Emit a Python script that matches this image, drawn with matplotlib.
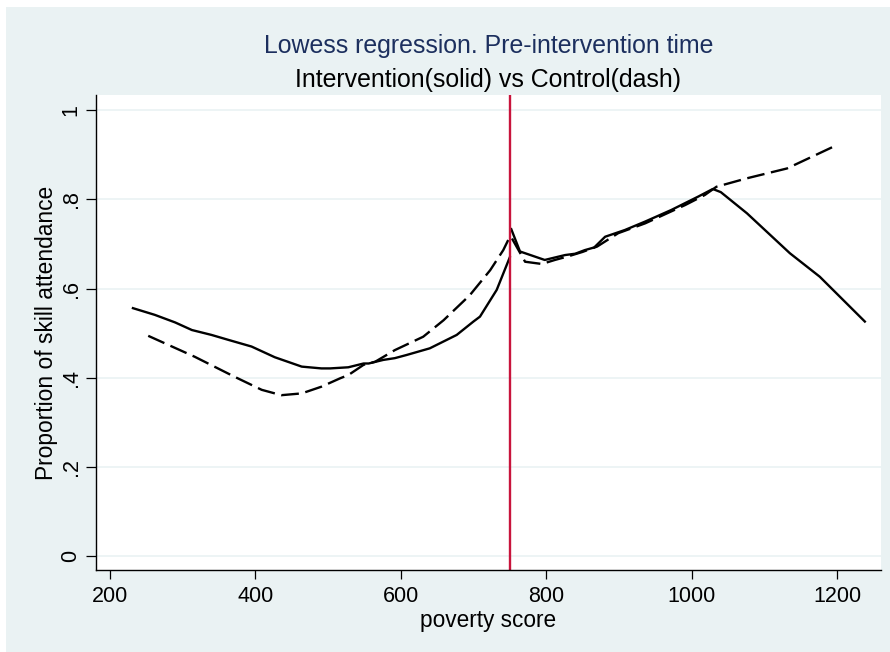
import matplotlib
matplotlib.use("Agg")
import matplotlib.pyplot as plt
from matplotlib.patches import Rectangle

plt.rcParams['font.family'] = ['Liberation Sans', 'DejaVu Sans']

# Intervention (solid), before and after the cut-off
int_pre_x = [232, 262, 290, 313, 340, 363, 395, 427, 464, 491, 503, 528,
             549, 556, 576, 592, 608, 640, 677, 700, 709, 732, 750]
int_pre_y = [0.556, 0.541, 0.524, 0.507, 0.496, 0.485, 0.470, 0.446, 0.425,
             0.421, 0.421, 0.4235, 0.432, 0.432, 0.440, 0.444, 0.451, 0.466,
             0.496, 0.526, 0.537, 0.597, 0.670]
int_post_x = [752, 764, 798, 826, 840, 853, 866, 881, 908, 936, 972, 1009,
              1029, 1040, 1076, 1135, 1176, 1238]
int_post_y = [0.733, 0.683, 0.664, 0.675, 0.678, 0.686, 0.692, 0.716, 0.731,
              0.750, 0.776, 0.806, 0.823, 0.816, 0.7685, 0.679, 0.6265, 0.526]

# Control (dash)
ctl_pre_x = [253, 317, 372, 409, 436, 464, 491, 517, 528, 549, 565, 592,
             631, 659, 695, 723, 741, 750]
ctl_pre_y = [0.494, 0.447, 0.402, 0.373, 0.361, 0.365, 0.380, 0.399, 0.406,
             0.429, 0.436, 0.462, 0.492, 0.529, 0.585, 0.641, 0.686, 0.716]
ctl_post_x = [753, 771, 794, 812, 830, 850, 870, 899, 936, 991, 1018, 1034,
              1076, 1131, 1195]
ctl_post_y = [0.712, 0.660, 0.655, 0.664, 0.672, 0.682, 0.694, 0.724, 0.746,
              0.787, 0.8095, 0.828, 0.847, 0.869, 0.918]

cutoff = 750
x_ticks = [200, 400, 600, 800, 1000, 1200]
y_ticks = [0, 0.2, 0.4, 0.6, 0.8, 1.0]
y_tick_labels = ['0', '.2', '.4', '.6', '.8', '1']

bg = '#eaf2f3'

fig = plt.figure(figsize=(8.9, 6.52), dpi=100, facecolor='white')
fig.patches.append(Rectangle((6 / 890, 0), 1 - 6 / 890, 645 / 652,
                             transform=fig.transFigure, facecolor=bg,
                             edgecolor='none', zorder=-10))

ax = fig.add_axes([95.7 / 890, 82 / 652, 785 / 890, 475 / 652])
ax.set_facecolor('white')

for y in y_ticks:
    ax.axhline(y, color=bg, lw=1.2, zorder=0)

dash = (7.5, 2.8)
ax.plot(int_pre_x, int_pre_y, color='black', lw=1.7)
ax.plot(int_post_x, int_post_y, color='black', lw=1.7)
ax.plot(ctl_pre_x, ctl_pre_y, color='black', lw=1.7, dashes=dash)
ax.plot(ctl_post_x, ctl_post_y, color='black', lw=1.7, dashes=dash)
ax.axvline(cutoff, color='#c8143c', lw=1.7)

ax.set_xlim(180.8, 1259.8)
ax.set_ylim(-0.0307, 1.0336)

ax.spines['top'].set_visible(False)
ax.spines['right'].set_visible(False)
for s in ('left', 'bottom'):
    ax.spines[s].set_linewidth(1.0)

ax.set_xticks(x_ticks)
ax.set_yticks(y_ticks)
ax.set_yticklabels(y_tick_labels, rotation=90, va='center')
ax.tick_params(axis='x', length=6.5, width=0.9, pad=5, labelsize=15.5)
ax.tick_params(axis='y', length=7.2, width=0.9, pad=3, labelsize=15.5)

ax.set_xlabel('poverty score', fontsize=16.3, va='baseline')
ax.xaxis.set_label_coords(0.5, -0.12)
ax.set_ylabel('Proportion of skill attendance', fontsize=16.4, va='baseline')
ax.yaxis.set_label_coords(-0.0548, 0.5)

cx = (95.7 + 880.7) / 2 / 890
fig.text(cx, 1 - 53 / 652, 'Lowess regression. Pre-intervention time',
         ha='center', va='baseline', fontsize=17.9, color='#1c2f5e')
fig.text(cx, 1 - 87.3 / 652, 'Intervention(solid) vs Control(dash)',
         ha='center', va='baseline', fontsize=17.9, color='black')

fig.savefig('out.png', dpi=100, facecolor=fig.get_facecolor())
